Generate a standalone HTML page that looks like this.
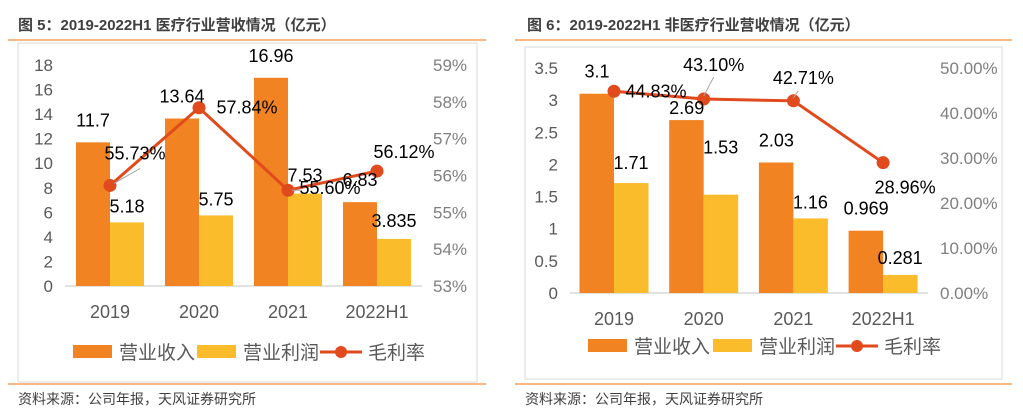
<!DOCTYPE html>
<html><head><meta charset="utf-8">
<style>
body{margin:0;width:1023px;height:419px;background:#fff;overflow:hidden;font-family:"Liberation Sans","Noto Sans CJK SC",sans-serif}
svg{position:absolute;left:0;top:0}
</style></head>
<body>
<svg id="s" width="1023" height="419">
<g>
<text x="18" y="30" font-size="15" font-weight="bold" fill="#404040">图 5：2019-2022H1 医疗行业营收情况（亿元）</text>
<line x1="8" y1="40" x2="486" y2="40" stroke="#f5a05a" stroke-width="1.5"/>
<rect x="18" y="43" width="459" height="339" fill="#fff" stroke="#d9d9d9"/>
<line x1="8" y1="384" x2="486" y2="384" stroke="#f5a05a" stroke-width="1.5"/>
<text x="18" y="404" font-size="14" fill="#404040">资料来源：公司年报，天风证券研究所</text>
</g>
<g>
<text x="527" y="30" font-size="15" font-weight="bold" fill="#404040">图 6：2019-2022H1 非医疗行业营收情况（亿元）</text>
<line x1="515" y1="40" x2="1012" y2="40" stroke="#f5a05a" stroke-width="1.5"/>
<rect x="525" y="47" width="477" height="332" fill="#fff" stroke="#d9d9d9"/>
<line x1="515" y1="384" x2="1012" y2="384" stroke="#f5a05a" stroke-width="1.5"/>
<text x="525" y="404" font-size="14" fill="#404040">资料来源：公司年报，天风证券研究所</text>
</g>
</svg>
<script>
const categories=["2019","2020","2021","2022H1"];
const medRevenue=[11.7,13.64,16.96,6.83];
const medProfit=[5.18,5.75,7.53,3.835];
const medMargin=[55.73,57.84,55.60,56.12];
const medRevLabels=["11.7","13.64","16.96","6.83"];
const medProfitLabels=["5.18","5.75","7.53","3.835"];
const medMarginLabels=["55.73%","57.84%","55.60%","56.12%"];
const medLeftTicks=[0,2,4,6,8,10,12,14,16,18];
const medRightTicks=[53,54,55,56,57,58,59];
const nonRevenue=[3.1,2.69,2.03,0.969];
const nonProfit=[1.71,1.53,1.16,0.281];
const nonMargin=[44.83,43.10,42.71,28.96];
const nonRevLabels=["3.1","2.69","2.03","0.969"];
const nonProfitLabels=["1.71","1.53","1.16","0.281"];
const nonMarginLabels=["44.83%","43.10%","42.71%","28.96%"];
const nonLeftTicks=[0,0.5,1,1.5,2,2.5,3,3.5];
const nonRightTicks=[0,10,20,30,40,50];

const NS="http://www.w3.org/2000/svg";
const svg=document.getElementById('s');
function el(tag,attrs,parent,text){const e=document.createElementNS(NS,tag);for(const k in attrs)e.setAttribute(k,attrs[k]);if(text!==undefined)e.textContent=text;(parent||svg).appendChild(e);return e;}

function chart(cfg){
  const g=el('g',{});
  
  
  const yL=v=>cfg.y0-(v-cfg.lMin)/(cfg.lMax-cfg.lMin)*(cfg.y0-cfg.y1);
  const yR=v=>cfg.y0-(v-cfg.rMin)/(cfg.rMax-cfg.rMin)*(cfg.y0-cfg.y1);
  const xC=i=>cfg.xStart+i*cfg.step;
  cfg.lTicks.forEach(t=>{const e=el('text',{x:cfg.lLabX,y:yL(t)+6,'text-anchor':'end','font-size':17,fill:'#595959'},g,cfg.lFmt(t));
    });
  cfg.rTicks.forEach(t=>{const e=el('text',{x:cfg.rLabX,y:yR(t)+6,'font-size':17,fill:'#7f7f7f'},g,cfg.rFmt(t));
    });
  const ax=el('line',{x1:cfg.axX1,x2:cfg.axX2,y1:cfg.y0,y2:cfg.y0,stroke:'#d9d9d9','stroke-width':1.5},g);
  
  categories.forEach((c,i)=>{
    const x=xC(i);
    const r=el('rect',{x:x-cfg.bw,y:yL(cfg.rev[i]),width:cfg.bw,height:cfg.y0-yL(cfg.rev[i]),fill:'#f28322'},g);
    
    const p=el('rect',{x:x,y:yL(cfg.prof[i]),width:cfg.bw,height:cfg.y0-yL(cfg.prof[i]),fill:'#fbbc2b'},g);
    
    const t=el('text',{x:x,y:cfg.y0+32,'text-anchor':'middle','font-size':18,fill:'#595959'},g,c);
    
  });
  let d='';
  cfg.margin.forEach((m,i)=>{d+=(i?'L':'M')+xC(i)+' '+yR(m);});
  const ln=el('path',{d:d,fill:'none',stroke:'#e04a1c','stroke-width':3},g);
  
  cfg.margin.forEach((m,i)=>{
    const c=el('circle',{cx:xC(i),cy:yR(m),r:6.5,fill:'#e04a1c'},g);
    
  });
  categories.forEach((c,i)=>{
    const a=cfg.revOff[i],b=cfg.profOff[i],m=cfg.marOff[i];
    const t1=el('text',{x:xC(i)+a[0],y:yL(cfg.rev[i])+a[1],'text-anchor':'middle','font-size':18,fill:'#000'},g,cfg.revL[i]);
    
    const t2=el('text',{x:xC(i)+b[0],y:yL(cfg.prof[i])+b[1],'text-anchor':'middle','font-size':18,fill:'#000'},g,cfg.profL[i]);
    
    const t3=el('text',{x:xC(i)+m[0],y:yR(cfg.margin[i])+m[1],'text-anchor':'middle','font-size':18,fill:'#000'},g,cfg.marL[i]);
    
  });
  const L=cfg.leg,ly=cfg.legY;
  const lg=el('g',{},g);
  let e=el('rect',{x:L[0],y:ly-7,width:39,height:13,fill:'#f28322'},lg);
  e=el('text',{x:L[0]+46,y:ly+7,'font-size':19,fill:'#595959'},lg,'营业收入');
  e=el('rect',{x:L[1],y:ly-7,width:39,height:13,fill:'#fbbc2b'},lg);
  e=el('text',{x:L[1]+46,y:ly+7,'font-size':19,fill:'#595959'},lg,'营业利润');
  e=el('line',{x1:L[2],x2:L[2]+42,y1:ly,y2:ly,stroke:'#e04a1c','stroke-width':3},lg);
  e=el('circle',{cx:L[2]+21,cy:ly,r:6,fill:'#e04a1c'},lg);
  e=el('text',{x:L[2]+48,y:ly+7,'font-size':19,fill:'#595959'},lg,'毛利率');
  cfg.leaders.forEach(q=>{const i=q[0];const x=xC(i),y=yR(cfg.margin[i]);
    const l=el('line',{x1:x+q[1],y1:y+q[2],x2:x+q[3],y2:y+q[4],stroke:'#a6a6a6','stroke-width':1},g);
    });
}

chart({name:'medical-chart',y0:286,y1:65,lMin:0,lMax:18,rMin:53,rMax:59,xStart:110,step:89,bw:34,
  lTicks:medLeftTicks,rTicks:medRightTicks,lFmt:t=>String(t),rFmt:t=>t+'%',lLabX:53,rLabX:433,axX1:65,axX2:422,
  rev:medRevenue,prof:medProfit,margin:medMargin,revL:medRevLabels,profL:medProfitLabels,marL:medMarginLabels,
  revOff:[[-17,-16],[-17,-16],[-17,-16],[-17,-16]],profOff:[[17,-10],[17,-10],[17,-12],[17,-12]],
  marOff:[[25,-26],[48,6],[42,4],[27,-13]],
  leaders:[[0,4,-2,30,-17],[2,4,0,14,0]],
  leg:[73,197,320],legY:352});
chart({name:'non-medical-chart',y0:293,y1:68,lMin:0,lMax:3.5,rMin:0,rMax:50,xStart:614,step:89.7,bw:34.5,
  lTicks:nonLeftTicks,rTicks:nonRightTicks,lFmt:t=>String(t),rFmt:t=>t.toFixed(2)+'%',lLabX:558,rLabX:940,axX1:570,axX2:928,
  rev:nonRevenue,prof:nonProfit,margin:nonMargin,revL:nonRevLabels,profL:nonProfitLabels,marL:nonMarginLabels,
  revOff:[[-17,-16],[-17,-6],[-17,-16],[-17,-16]],profOff:[[17,-14],[17,-41],[17,-10],[17,-11]],
  marOff:[[42,6],[10,-28],[10,-17],[22,31]],
  leaders:[[1,0,-3,10,-22],[2,0,-3,5,-10]],
  leg:[588,713,836],legY:346});
</script>
</body></html>
